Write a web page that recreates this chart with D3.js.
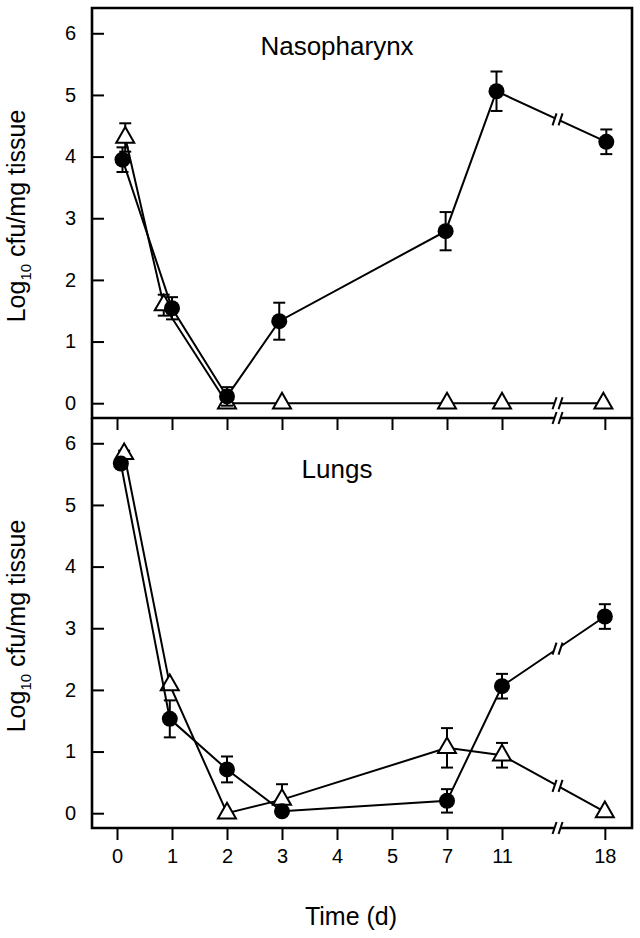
<!DOCTYPE html>
<html>
<head>
<meta charset="utf-8">
<script src="https://cdn.jsdelivr.net/npm/d3@7"></script>
<style>
    body { margin: 0; background: #fff; }
    svg { display: block; font-family: Arial, "Liberation Sans", sans-serif; }
</style>
</head>
<body>
<div id="chart"></div>
<script>
// x axis: days, the last one after a break
const tickDays = [0, 1, 2, 3, 4, 5, 7, 11, 18];
const tickSlots = [0, 1, 2, 3, 4, 5, 6, 7, 8.87];
const yTicks = [0, 1, 2, 3, 4, 5, 6];
const panelTitles = ["Nasopharynx", "Lungs"];

// Nasopharynx
const nasoCircleDays = [0.1, 1.0, 2.0, 2.95, 6.95, 10.6, 18.1];
const nasoCircleValues = [3.95, 1.54, 0.11, 1.33, 2.79, 5.06, 4.24];
const nasoCircleErrors = [0.2, 0.18, 0.15, 0.3, 0.31, 0.32, 0.2];
const nasoTriangleDays = [0.15, 0.85, 2.0, 3.0, 7.0, 11.0, 17.9];
const nasoTriangleValues = [4.31, 1.59, 0, 0, 0, 0, 0];
const nasoTriangleErrors = [0.23, 0.17, 0, 0, 0, 0, 0];

// Lungs
const lungsCircleDays = [0.07, 0.96, 2.0, 3.0, 7.0, 11.0, 18.0];
const lungsCircleValues = [5.67, 1.53, 0.71, 0.03, 0.2, 2.06, 3.19];
const lungsCircleErrors = [0.05, 0.3, 0.21, 0, 0.19, 0.2, 0.2];
const lungsTriangleDays = [0.13, 0.96, 2.0, 3.0, 7.0, 11.0, 18.0];
const lungsTriangleValues = [5.83, 2.08, 0, 0.22, 1.06, 0.94, 0.02];
const lungsTriangleErrors = [0.05, 0, 0, 0.25, 0.32, 0.2, 0];

const width = 640;
const height = 938;
const margin = {top: 8, right: 8, left: 92};
const panelHeight = 410;
const slot = 55;
const firstSlot = 25;
const breakFrac = 0.54;

function zipSeries(days, values, errors) {
    return days.map((d, i) => ({day: d, value: values[i], err: errors[i]}));
}

const panels = [
    {
        title: panelTitles[0],
        titleOffset: 47,
        circles: zipSeries(nasoCircleDays, nasoCircleValues, nasoCircleErrors),
        triangles: zipSeries(nasoTriangleDays, nasoTriangleValues, nasoTriangleErrors)
    },
    {
        title: panelTitles[1],
        titleOffset: 60,
        circles: zipSeries(lungsCircleDays, lungsCircleValues, lungsCircleErrors),
        triangles: zipSeries(lungsTriangleDays, lungsTriangleValues, lungsTriangleErrors)
    }
];

const svg = d3.select("#chart").append("svg")
    .attr("width", width)
    .attr("height", height);

const x = d3.scaleLinear()
    .domain(tickDays)
    .range(tickSlots.map(s => margin.left + firstSlot + s * slot));

const plotRight = width - margin.right;
const breakX = x(11) + (x(18) - x(11)) * breakFrac;

function drawBreak(g, bx, by) {
    const b = g.append("g");
    b.append("path")
        .attr("d", `M${bx - 5},${by + 6}L${bx - 1},${by - 6}L${bx + 5},${by - 6}L${bx + 1},${by + 6}Z`)
        .attr("fill", "#fff");
    [-3, 3].forEach(o => {
        b.append("line")
            .attr("x1", bx + o - 2).attr("y1", by + 6)
            .attr("x2", bx + o + 2).attr("y2", by - 6)
            .attr("stroke", "#000")
            .attr("stroke-width", 2);
    });
}

function drawSeries(g, data, y, kind) {
    const line = d3.line()
        .x(d => x(d.day))
        .y(d => y(d.value));

    g.append("path")
        .datum(data)
        .attr("d", line)
        .attr("fill", "none")
        .attr("stroke", "#000")
        .attr("stroke-width", 2);

    // break marks on the segment that crosses the axis break
    for (let i = 1; i < data.length; i++) {
        const x0 = x(data[i - 1].day), x1 = x(data[i].day);
        if (x0 < breakX && x1 > breakX) {
            const t = (breakX - x0) / (x1 - x0);
            const by = y(data[i - 1].value) + t * (y(data[i].value) - y(data[i - 1].value));
            drawBreak(g, breakX, by);
        }
    }

    const bars = g.selectAll(null)
        .data(data.filter(d => d.err > 0))
        .enter().append("g")
        .attr("stroke", "#000")
        .attr("stroke-width", 2);
    bars.append("line")
        .attr("x1", d => x(d.day)).attr("x2", d => x(d.day))
        .attr("y1", d => y(d.value - d.err)).attr("y2", d => y(d.value + d.err));
    [-1, 1].forEach(s => {
        bars.append("line")
            .attr("x1", d => x(d.day) - 6).attr("x2", d => x(d.day) + 6)
            .attr("y1", d => y(d.value + s * d.err)).attr("y2", d => y(d.value + s * d.err));
    });

    if (kind === "circle") {
        g.selectAll(null)
            .data(data)
            .enter().append("circle")
            .attr("cx", d => x(d.day))
            .attr("cy", d => y(d.value))
            .attr("r", 8)
            .attr("fill", "#000");
    } else {
        g.selectAll(null)
            .data(data)
            .enter().append("path")
            .attr("transform", d => `translate(${x(d.day)},${y(d.value)})`)
            .attr("d", d3.symbol(d3.symbolTriangle, 140))
            .attr("fill", "#fff")
            .attr("stroke", "#000")
            .attr("stroke-width", 2);
    }
}

panels.forEach((p, i) => {
    const top = margin.top + i * panelHeight;
    const bottom = top + panelHeight;
    const g = svg.append("g");

    const y = d3.scaleLinear()
        .domain([-0.24, 6.41])
        .range([bottom, top]);

    const yAxis = d3.axisLeft(y)
        .tickValues(yTicks)
        .tickFormat(d3.format("d"))
        .tickSizeInner(-12)
        .tickSizeOuter(0)
        .tickPadding(16);

    const xAxis = d3.axisBottom(x)
        .tickValues(tickDays)
        .tickSizeInner(12)
        .tickSizeOuter(0)
        .tickPadding(9)
        .tickFormat(i === panels.length - 1 ? d3.format("d") : "");

    [g.append("g").attr("transform", `translate(${margin.left},0)`).call(yAxis),
     g.append("g").attr("transform", `translate(0,${bottom})`).call(xAxis)].forEach(a => {
        a.attr("font-family", null).attr("font-size", 20);
        a.select(".domain").remove();
        a.selectAll("line").attr("stroke", "#000").attr("stroke-width", 2);
        a.selectAll("text").attr("fill", "#000");
    });

    drawSeries(g, p.triangles, y, "triangle");
    drawSeries(g, p.circles, y, "circle");

    g.append("text")
        .attr("x", 337)
        .attr("y", top + p.titleOffset)
        .attr("text-anchor", "middle")
        .attr("font-size", 26)
        .text(p.title);

    const label = g.append("text")
        .attr("transform", `translate(25,${(top + bottom) / 2 + 3}) rotate(-90)`)
        .attr("text-anchor", "middle")
        .attr("font-size", 25);
    label.append("tspan").text("Log");
    label.append("tspan").attr("font-size", 15).attr("dy", 6).text("10");
    label.append("tspan").attr("dy", -6).text(" cfu/mg tissue");

    // frame
    const frame = i === 0
        ? `M${margin.left},${bottom}V${top}H${plotRight}V${bottom}Z`
        : `M${margin.left},${top}V${bottom}H${plotRight}V${top}`;
    g.append("path")
        .attr("d", frame)
        .attr("fill", "none")
        .attr("stroke", "#000")
        .attr("stroke-width", 2.6);

    drawBreak(g, breakX, bottom);
});

svg.append("text")
    .attr("x", 351)
    .attr("y", 925)
    .attr("text-anchor", "middle")
    .attr("font-size", 25)
    .text("Time (d)");
</script>
</body>
</html>
